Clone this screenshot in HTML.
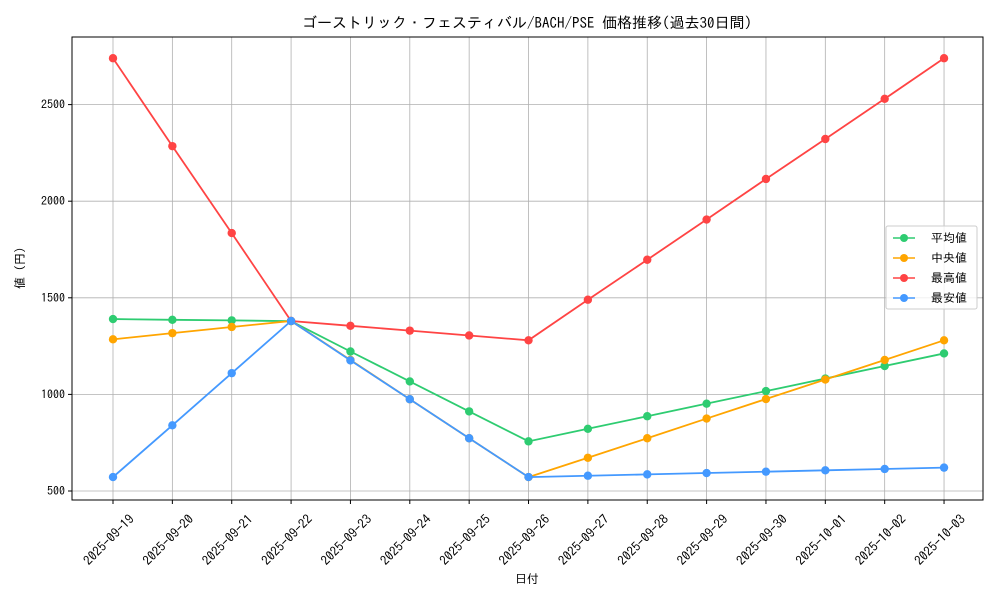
<!DOCTYPE html>
<html><head><meta charset="utf-8">
<style>
html,body{margin:0;padding:0;background:#fff;}
svg{display:block;font-family:"IPAGothic","Liberation Sans","Noto Sans CJK JP",sans-serif;}
</style></head><body>
<svg id="c" width="1000" height="600" xmlns="http://www.w3.org/2000/svg">
<rect width="1000" height="600" fill="#fff"/>
<g id="grid"></g>
<rect x="72" y="37" width="911" height="463" fill="none" stroke="#000" stroke-width="1"/>
<g id="series"></g>
<text x="527" y="28" font-size="15" text-anchor="middle">ゴーストリック・フェスティバル/BACH/PSE 価格推移(過去30日間)</text>
<text x="527" y="583" font-size="12" text-anchor="middle">日付</text>
<text x="24" y="268" font-size="12" text-anchor="middle" transform="rotate(-90 24 268)">値 (円)</text>
<g>
<rect x="886" y="226" width="91" height="83" fill="#fff" fill-opacity="0.8" stroke="#ccc" rx="2"/>
<line x1="893" y1="238" x2="915" y2="238" stroke="#2ecc71" stroke-width="1.5"/><circle cx="904" cy="238" r="4" fill="#2ecc71"/><text x="931" y="242" font-size="12">平均値</text>
<line x1="893" y1="258" x2="915" y2="258" stroke="#ffa500" stroke-width="1.5"/><circle cx="904" cy="258" r="4" fill="#ffa500"/><text x="931" y="262" font-size="12">中央値</text>
<line x1="893" y1="278" x2="915" y2="278" stroke="#ff4444" stroke-width="1.5"/><circle cx="904" cy="278" r="4" fill="#ff4444"/><text x="931" y="282" font-size="12">最高値</text>
<line x1="893" y1="298" x2="915" y2="298" stroke="#4499ff" stroke-width="1.5"/><circle cx="904" cy="298" r="4" fill="#4499ff"/><text x="931" y="302" font-size="12">最安値</text>
</g>
</svg>
<script>
var ns="http://www.w3.org/2000/svg";
function X(i){return 113+i*59.36;}
function Y(v){return 491-(v-500)*0.1932;}
var g=document.getElementById("grid"),s=document.getElementById("series");
function el(p,t,a,txt){var e=document.createElementNS(ns,t);for(var k in a)e.setAttribute(k,a[k]);if(txt)e.textContent=txt;p.appendChild(e);return e;}
var dates=["2025-09-19","2025-09-20","2025-09-21","2025-09-22","2025-09-23","2025-09-24","2025-09-25","2025-09-26","2025-09-27","2025-09-28","2025-09-29","2025-09-30","2025-10-01","2025-10-02","2025-10-03"];
dates.forEach(function(d,i){var x=X(i);
el(g,"line",{x1:x,y1:37,x2:x,y2:500,stroke:"#b0b0b0","stroke-width":0.8});
el(g,"line",{x1:x,y1:500,x2:x,y2:504,stroke:"#000"});
var ax=x+22, ay=520;
el(g,"text",{x:ax,y:ay,"font-size":13,"text-anchor":"end",transform:"rotate(-45 "+ax+" "+ay+")"},d);});
[500,1000,1500,2000,2500].forEach(function(v){var y=Y(v);
el(g,"line",{x1:72,y1:y,x2:983,y2:y,stroke:"#b0b0b0","stroke-width":0.8});
el(g,"line",{x1:68,y1:y,x2:72,y2:y,stroke:"#000"});
el(g,"text",{x:65,y:y+4,"font-size":12,"text-anchor":"end"},String(v));});
var data=[
["#2ecc71",[1390,1386,1383,1379,1222,1067,912,757,822,887,952,1017,1082,1147,1212]],
["#ffa500",[1285,1317,1349,1380,1178,975,773,572,672,773,875,976,1077,1178,1280]],
["#ff4444",[2740,2285,1835,1380,1355,1330,1305,1280,1490,1697,1905,2115,2322,2530,2740]],
["#4499ff",[572,840,1110,1380,1176,975,773,572,579,586,593,600,607,614,621]]];
data.forEach(function(d){var pts=d[1].map(function(v,i){return X(i)+","+Y(v);}).join(" ");
el(s,"polyline",{points:pts,fill:"none",stroke:d[0],"stroke-width":1.8});
d[1].forEach(function(v,i){el(s,"circle",{cx:X(i),cy:Y(v),r:4.2,fill:d[0]});});});
</script>
</body></html>
